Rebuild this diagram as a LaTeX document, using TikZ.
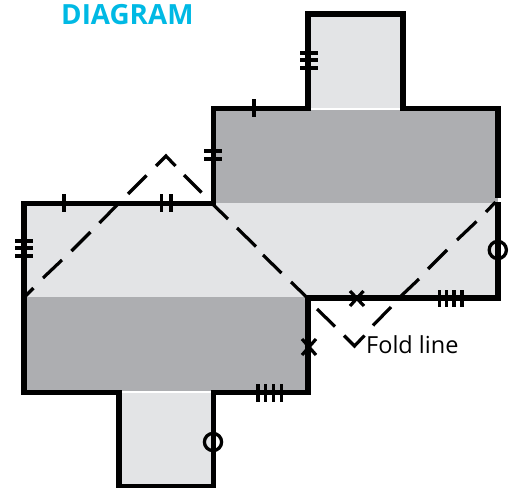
\documentclass[tikz,border=0pt]{standalone}
\usepackage{fontspec}
\setmainfont{Open Sans}
\definecolor{lightfill}{HTML}{E3E4E6}
\definecolor{darkfill}{HTML}{ADAEB1}
\definecolor{titleblue}{HTML}{00B9E4}
\tikzset{
  outline/.style={line width=5.4pt,black,miter limit=10},
  foldseg/.style={line width=3.2pt,black,miter limit=10},
  tick/.style={line width=3.2pt,black},
  ringmark/.style={line width=3.3pt,black},
}
\begin{document}
\begin{tikzpicture}[x=1pt,y=-1pt]
\useasboundingbox (0,0) rectangle (511,487);
% fills
\fill[lightfill] (308,14) rectangle (403,109);
\fill[lightfill] (119,391) rectangle (213.5,487);
\fill[lightfill] (24,203.3) rectangle (308,297.5);
\fill[lightfill] (213.5,203) rectangle (497.8,298);
\fill[darkfill] (213.5,108.7) rectangle (497.8,203);
\fill[darkfill] (24,297) rectangle (308,392.7);
% white stripes at the tab folds
\fill[white] (310,108.2) rectangle (401,110);
\fill[white] (121.5,391) rectangle (211,393);
% outline
\draw[outline] (497.8,202) -- (497.8,298) -- (308,298) -- (308,392.7) -- (213.5,392.7)
  -- (213.5,487) -- (118.8,487) -- (118.8,392.7) -- (24,392.7) -- (24,203.3)
  -- (213.5,203.3) -- (213.5,108.7) -- (308,108.7) -- (308,14) -- (403,14)
  -- (403,108.7) -- (497.8,108.7) -- (497.8,198);
% fold line
\foreach \a/\b/\c/\d in {
  24.5/297/33.5/288, 43/278/62/260, 71.5/251/90.5/232, 99.5/223/118/204, 128/194/146.5/175.5,
  184/175/201.5/192.5, 213.5/205/228/219, 237/228/256/246.5, 263/255/281.5/273, 291/282/307/297.5,
  317/309/335/326.5, 373/325.5/391/307, 400/297/419/279, 428/269/447/250, 457/240/476.5/221.5, 486/212/495.5/202}
  \draw[foldseg] (\a,\b) -- (\c,\d);
\draw[foldseg] (156,166) -- (166,156) -- (175.5,166);
\draw[foldseg] (344,335.5) -- (354.5,346) -- (364.5,335.5);
% single ticks
\draw[tick] (64,194) -- (64,212);
\draw[tick] (254,99) -- (254,117);
% double ticks
\foreach \x in {161.5,171} \draw[tick] (\x,194) -- (\x,212);
\foreach \y in {151,159} \draw[tick] (204,\y) -- (222,\y);
% triple ticks
\foreach \y in {53,60,68} \draw[tick] (300,\y) -- (318,\y);
\foreach \y in {241,248,256} \draw[tick] (15,\y) -- (33,\y);
% quadruple ticks
\foreach \x in {439.3,446.7,454,462} \draw[tick] (\x,290) -- (\x,307);
\foreach \x in {258,265.3,273.3,281.7} \draw[tick] (\x,384) -- (\x,402);
% crosses
\draw[tick] (350,291) -- (364,306) (350,306) -- (363.5,291);
\draw[tick] (302,339) -- (316,355) (302,355) -- (316,339);
% rings
\draw[ringmark] (497.8,250) circle (8.6);
\draw[ringmark] (213,442) circle (8.6);
% labels
\node[anchor=base west,inner sep=0pt,text=titleblue,font=\fontsize{27.8}{28}\selectfont\bfseries] (title) at (61,25) {DIAGRAM};
\node[anchor=base west,inner sep=0pt,text=black,font=\fontsize{23.5}{24}\selectfont] (foldlabel) at (366,353.5) {Fold line};
\end{tikzpicture}
\end{document}
